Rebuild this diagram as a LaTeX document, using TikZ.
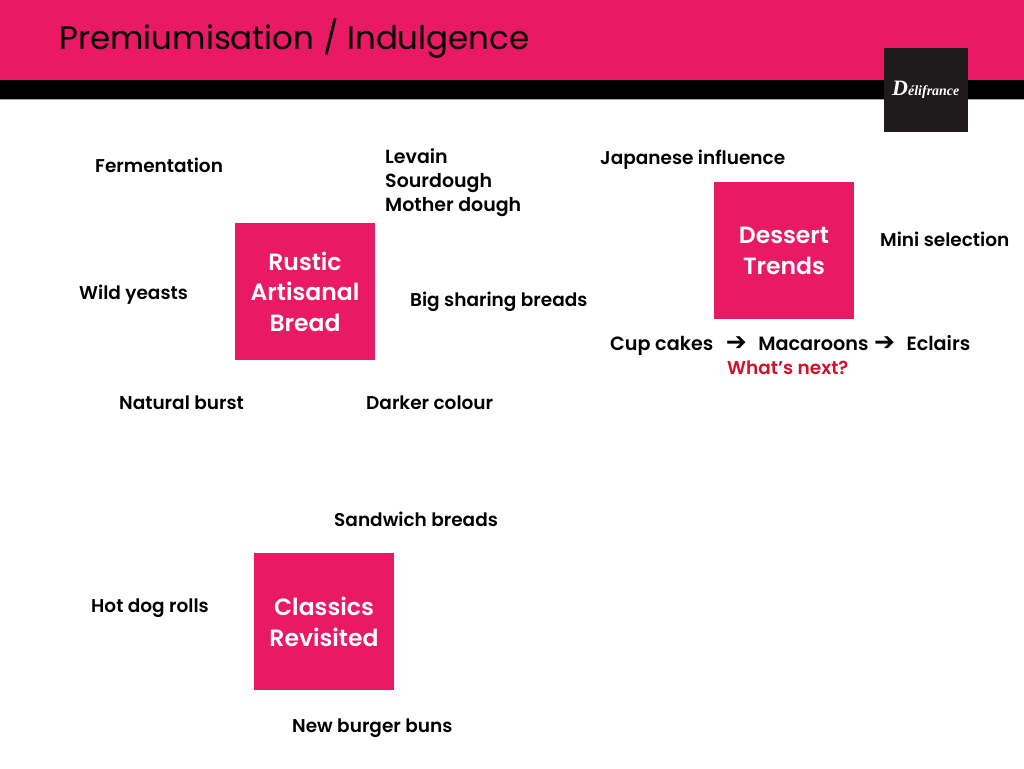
\documentclass[tikz,border=0pt]{standalone}
\usepackage{fontspec}
\setmainfont[BoldFont={Poppins SemiBold}]{Poppins}
\newfontfamily\boxfont{Poppins SemiBold}
\newfontfamily\dv{DejaVu Sans}
\newfontfamily\logofont{Liberation Serif}
\definecolor{pink}{HTML}{E91A63}
\definecolor{nextred}{HTML}{D0112B}
\definecolor{logobg}{HTML}{1F1A1C}
\newcommand{\arr}{\makebox[20pt]{\dv\bfseries\fontsize{25}{25}\selectfont ➔}}
\tikzset{
 x=1pt,y=-1pt,
 box/.style={fill=pink,minimum width=140pt,minimum height=137pt,inner sep=0pt,align=center,text=white,font=\boxfont\fontsize{23.5}{30.5}\selectfont},
 lab/.style={anchor=west,inner sep=0pt,align=left,font=\fontsize{18.5}{24}\selectfont\bfseries,text=black},
}
\begin{document}
\begin{tikzpicture}
\useasboundingbox (0,0) rectangle (1024,768);
\fill[pink] (0,0) rectangle (1024,80);
\fill[black] (0,80) rectangle (1024,99);
\fill[black!35] (0,99) rectangle (1024,100);
\node[fill=logobg,minimum width=83.5pt,minimum height=83.5pt,inner sep=0pt,text=white] (logo) at (925.8,89.8) {\logofont\itshape\bfseries\fontsize{14}{14}\selectfont{\fontsize{22}{22}\selectfont D}élifrance};
\node[anchor=west,inner sep=0pt,font=\fontsize{32.5}{44}\selectfont,text=black] (title) at (59,39) {Premiumisation / Indulgence};
\node[box] (rustic) at (305,291.5) {Rustic\\Artisanal\\Bread};
\node[box] (dessert) at (784,250.7) {Dessert\\Trends};
\node[box] (classics) at (324,621.7) {Classics\\Revisited};
\node[lab] (a) at (95,165) {Fermentation};
\node[lab,anchor=north west,font=\fontsize{19}{24}\selectfont\bfseries] (b) at (385,148) {Levain\\Sourdough\\Mother dough};
\node[lab] (c) at (600,160) {Japanese influence};
\node[lab] (d) at (880,239) {Mini selection};
\node[lab] (e) at (79,295) {Wild yeasts};
\node[lab] (f) at (410,302) {Big sharing breads};
\node[lab,font=\fontsize{19.2}{24}\selectfont\bfseries] (g) at (610,346) {Cup cakes\hspace{13pt}\arr\hspace{12pt}Macaroons\hspace{6pt}\arr\hspace{12pt}Eclairs};
\node[lab,text=nextred] (h) at (727,368) {What’s next?};
\node[lab] (i) at (119,403) {Natural burst};
\node[lab] (j) at (366,403) {Darker colour};
\node[lab] (k) at (334,519) {Sandwich breads};
\node[lab] (l) at (91,608) {Hot dog rolls};
\node[lab] (m) at (292,728) {New burger buns};
\end{tikzpicture}
\end{document}
